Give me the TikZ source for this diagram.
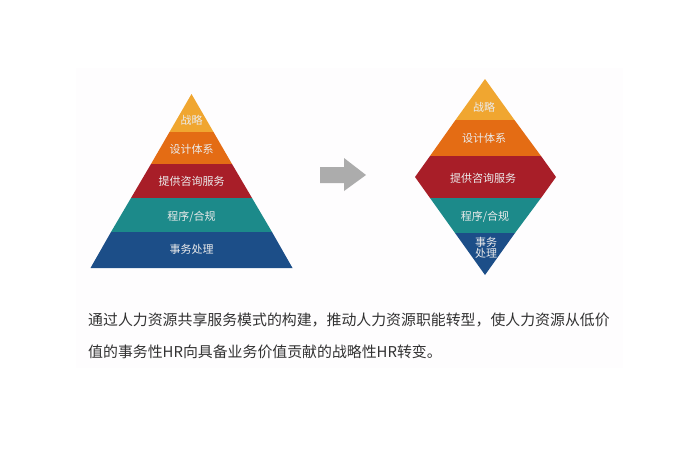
\documentclass[tikz,border=0pt]{standalone}
\usepackage{fontspec}
\setmainfont{Noto Sans CJK SC}
\definecolor{layerYellow}{RGB}{240,166,48}
\definecolor{layerOrange}{RGB}{228,108,20}
\definecolor{layerRed}{RGB}{168,30,40}
\definecolor{layerTeal}{RGB}{28,138,138}
\definecolor{layerBlue}{RGB}{28,78,136}
\definecolor{arrowGray}{RGB}{172,172,172}
\definecolor{bodyGray}{RGB}{50,50,50}
\definecolor{panelTint}{RGB}{254,253,254}
\tikzset{
    layerlabel/.style={text=white!92!black, font=\fontsize{11}{11}\selectfont, inner sep=0pt},
    bodyline/.style={text=bodyGray, font=\fontsize{14.9}{15}\selectfont, inner sep=0pt, anchor=west}
}

\begin{document}
\begin{tikzpicture}[x=1pt, y=-1pt]
    \useasboundingbox (0,0) rectangle (680,453);
    \fill[panelTint] (76,68) rectangle (623,368);

    % Left pyramid
    \fill[layerYellow] (191.5,94) -- (213.5,132) -- (169.5,132) -- cycle;
    \fill[layerOrange] (169.5,132) -- (213.5,132) -- (232,164) -- (151,164) -- cycle;
    \fill[layerRed] (151,164) -- (232,164) -- (252,198) -- (131,198) -- cycle;
    \fill[layerTeal] (131,198) -- (252,198) -- (272,232) -- (111,232) -- cycle;
    \fill[layerBlue] (111,232) -- (272,232) -- (292.5,268) -- (90.5,268) -- cycle;

    \node[layerlabel] (leftTop) at (191.5,120) {战略};
    \node[layerlabel] (leftDesign) at (191.5,149) {设计体系};
    \node[layerlabel] (leftAdvice) at (191.5,181) {提供咨询服务};
    \node[layerlabel] (leftRules) at (191.5,217) {程序/合规};
    \node[layerlabel] (leftAdmin) at (191.5,249) {事务处理};

    % Block arrow
    \fill[arrowGray] (320,167) -- (344,167) -- (344,158) -- (366,175) -- (344,191) -- (344,183) -- (320,183) -- cycle;

    % Right diamond
    \fill[layerYellow] (485,79) -- (514.5,120) -- (455.5,120) -- cycle;
    \fill[layerOrange] (455.5,120) -- (514.5,120) -- (541,156) -- (430,156) -- cycle;
    \fill[layerRed] (430,156) -- (541,156) -- (556,177) -- (541,198) -- (430,198) -- (415,177) -- cycle;
    \fill[layerTeal] (430,198) -- (541,198) -- (515,233) -- (455,233) -- cycle;
    \fill[layerBlue] (455,233) -- (515,233) -- (485,275) -- cycle;

    \node[layerlabel] (rightTop) at (484,107) {战略};
    \node[layerlabel] (rightDesign) at (484,138) {设计体系};
    \node[layerlabel] (rightAdvice) at (483,178) {提供咨询服务};
    \node[layerlabel] (rightRules) at (485,217) {程序/合规};
    \node[layerlabel, align=center, font=\fontsize{11}{11}\selectfont] (rightAdmin) at (486,248) {事务\\处理};

    % Caption
    \node[bodyline] (captionOne) at (88,320) {通过人力资源共享服务模式的构建，推动人力资源职能转型，使人力资源从低价};
    \node[bodyline] (captionTwo) at (88,352) {值的事务性HR向具备业务价值贡献的战略性HR转变。};
\end{tikzpicture}
\end{document}
